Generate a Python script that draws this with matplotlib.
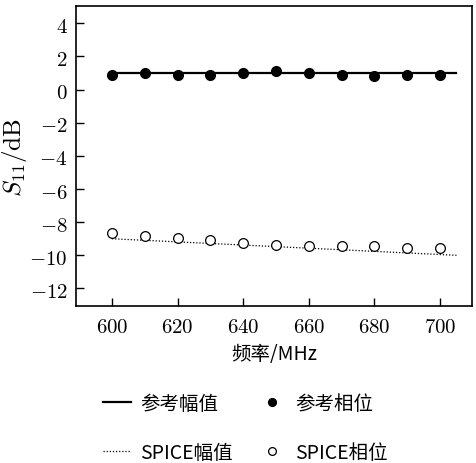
import matplotlib
matplotlib.use("Agg")
import matplotlib.pyplot as plt
from matplotlib.ticker import FuncFormatter, MultipleLocator

plt.rcParams['font.family'] = ['Noto Sans CJK SC', 'DejaVu Sans']
plt.rcParams['mathtext.fontset'] = 'cm'

# data
freq = [600, 610, 620, 630, 640, 650, 660, 670, 680, 690, 700]
ref_phase = [0.9, 1.0, 0.9, 0.9, 1.0, 1.1, 1.0, 0.9, 0.8, 0.9, 0.9]
spice_phase = [-8.65, -8.85, -8.95, -9.05, -9.25, -9.35, -9.45, -9.45, -9.45, -9.55, -9.55]
amp_freq = [600, 705]
ref_amp = [1.0, 1.0]
spice_amp = [-9.0, -10.0]

labels = ['参考幅值', 'SPICE幅值', '参考相位', 'SPICE相位']

fig = plt.figure(figsize=(4.77, 4.64), dpi=100)
ax = fig.add_axes([0.159, 0.338, 0.831, 0.647])

l1, = ax.plot(amp_freq, ref_amp, color='black', lw=1.6)
l2, = ax.plot(amp_freq, spice_amp, color='black', lw=0.9, ls=(0, (1, 1.5)))
m1, = ax.plot(freq, ref_phase, 'o', color='black', ms=7, ls='none')
m2, = ax.plot(freq, spice_phase, 'o', mfc='white', mec='black', mew=0.9, ms=7, ls='none')

ax.set_xlim(589, 709.8)
ax.set_ylim(-13.07, 5.05)
ax.xaxis.set_major_locator(MultipleLocator(20))
ax.yaxis.set_major_locator(MultipleLocator(2))
fmt = FuncFormatter(lambda v, p: f'${v:g}$')
ax.xaxis.set_major_formatter(fmt)
ax.yaxis.set_major_formatter(fmt)
ax.tick_params(direction='in', length=6, width=1.0, labelsize=15, pad=6)
for s in ax.spines.values():
    s.set_linewidth(1.2)

ax.set_ylabel(r'$S_{11}/\mathrm{dB}$', fontsize=18, labelpad=0)
ax.set_xlabel('频率/MHz', fontsize=14, labelpad=5)

fig.legend([l1, l2, m1, m2], labels, ncol=2, loc='center',
           bbox_to_anchor=(0.515, 0.075), frameon=False, fontsize=14,
           handlelength=1.4, handletextpad=0.5, columnspacing=1.3,
           labelspacing=1.45, markerscale=0.8)

fig.savefig('out.png', dpi=100)
